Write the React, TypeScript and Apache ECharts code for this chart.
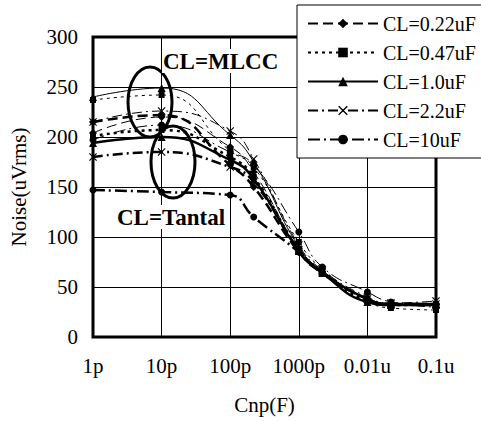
import React, { useEffect, useRef } from "react";
import * as echarts from "echarts";

const capacitances = [1e-12, 1e-11, 1e-10, 2.2e-10, 1e-9, 2.2e-9, 1e-8, 2.2e-8, 1e-7];
const xTickLabels = ["1p", "10p", "100p", "1000p", "0.01u", "0.1u"];
const clNames = ["CL=0.22uF", "CL=0.47uF", "CL=1.0uF", "CL=2.2uF", "CL=10uF"];

// MLCC output capacitor (thin lines)
const mlcc022 = [204, 220, 190, 165, 88, 65, 38, 33, 32];
const mlcc047 = [237, 242, 186, 170, 95, 68, 36, 29, 27];
const mlcc10 = [240, 249, 202, 175, 90, 66, 38, 33, 33];
const mlcc22 = [215, 226, 206, 178, 92, 67, 40, 34, 36];
const mlcc100 = [197, 212, 185, 172, 105, 70, 45, 35, 30];

// Tantalum output capacitor (thick lines)
const tant022 = [215, 222, 172, 150, 85, 64, 38, 33, 33];
const tant047 = [201, 207, 180, 160, 88, 65, 36, 32, 32];
const tant10 = [194, 200, 177, 158, 86, 64, 35, 32, 32];
const tant22 = [180, 185, 170, 155, 87, 65, 38, 33, 33];
const tant100 = [147, 145, 142, 120, 85, 64, 38, 33, 33];

const FONT = "'Liberation Serif', 'Times New Roman', serif";
const XSYM = "path://M0,1L1,0L5,4L9,0L10,1L6,5L10,9L9,10L5,6L1,10L0,9L4,5Z";

const styles = [
  { symbol: "diamond", size: 8, dash: [10, 5] as any },
  { symbol: "rect", size: 6, dash: [3, 4] as any },
  { symbol: "triangle", size: 8, dash: "solid" as any },
  { symbol: XSYM, size: 8, dash: [10, 4, 2, 4] as any },
  { symbol: "circle", size: 7, dash: [12, 4, 2, 4] as any },
];

export default function App() {
  const ref = useRef<HTMLDivElement>(null);
  useEffect(() => {
    if (!ref.current) return;
    const chart = echarts.init(ref.current, undefined, { renderer: "svg" });
    const mlcc = [mlcc022, mlcc047, mlcc10, mlcc22, mlcc100];
    const tant = [tant022, tant047, tant10, tant22, tant100];

    const minorLines: any[] = [];
    for (let e = -12; e < -7; e++) {
      for (let k = 2; k <= 9; k++) minorLines.push({ xAxis: k * Math.pow(10, e) });
    }

    const mk = (vals: number[], i: number, thick: boolean) => ({
      name: clNames[i],
      type: "line",
      smooth: 0.5,
      z: thick ? 4 : 3,
      symbol: styles[i].symbol,
      symbolSize: styles[i].size,
      showSymbol: true,
      data: vals.map((v, j) => [capacitances[j], v]),
      lineStyle: { color: "#000", width: thick ? 2.5 : 1, type: styles[i].dash },
      itemStyle: { color: "#000" },
    });

    const series: any[] = [
      {
        name: "minor",
        type: "line",
        data: [],
        z: 1,
        silent: true,
        markLine: {
          silent: true,
          symbol: "none",
          label: { show: false },
          lineStyle: { color: "#555", width: 1, type: "solid" },
          data: minorLines,
        },
      },
    ];
    mlcc.forEach((v, i) => series.push(mk(v, i, false)));
    tant.forEach((v, i) => series.push(mk(v, i, true)));

    chart.setOption({
      animation: false,
      backgroundColor: "#fff",
      grid: {
        left: 92,
        right: 45,
        top: 37,
        bottom: 84,
        show: true,
        borderColor: "#000",
        borderWidth: 3,
        backgroundColor: "transparent",
      },
      legend: {
        data: clNames,
        orient: "vertical",
        left: 297,
        top: 5,
        padding: [7, 10, 7, 10],
        itemWidth: 70,
        itemHeight: 12,
        itemGap: 6,
        backgroundColor: "#fff",
        borderColor: "#000",
        borderWidth: 1,
        borderRadius: 0,
        selectedMode: false,
        z: 10,
        textStyle: { fontFamily: FONT, fontSize: 20, color: "#000", lineHeight: 23 },
      },
      xAxis: {
        type: "log",
        logBase: 10,
        min: 1e-12,
        max: 1e-7,
        name: "Cnp(F)",
        nameLocation: "middle",
        nameGap: 57,
        nameTextStyle: { fontFamily: FONT, fontSize: 21, color: "#000" },
        axisLine: { show: false },
        axisTick: { show: false },
        axisLabel: {
          margin: 18,
          fontFamily: FONT,
          fontSize: 21,
          color: "#000",
          formatter: (v: number) => xTickLabels[Math.round(Math.log10(v)) + 12] ?? "",
        },
        splitLine: { show: true, lineStyle: { color: "#000", width: 1 } },
      },
      yAxis: {
        type: "value",
        min: 0,
        max: 300,
        interval: 50,
        name: "Noise(uVrms)",
        nameLocation: "middle",
        nameGap: 64,
        nameTextStyle: { fontFamily: FONT, fontSize: 21, color: "#000" },
        axisLine: { show: false },
        axisTick: { show: false },
        axisLabel: { margin: 15, fontFamily: FONT, fontSize: 21, color: "#000" },
        splitLine: { show: true, lineStyle: { color: "#000", width: 1 } },
      },
      graphic: [
        {
          type: "ellipse",
          z: 20,
          shape: { cx: 150, cy: 102, rx: 22, ry: 35 },
          style: { fill: "none", stroke: "#000", lineWidth: 3 },
        },
        {
          type: "ellipse",
          z: 20,
          shape: { cx: 173, cy: 162, rx: 22, ry: 36 },
          style: { fill: "none", stroke: "#000", lineWidth: 3 },
        },
        {
          type: "text",
          z: 21,
          left: 162,
          top: 49,
          style: {
            text: "CL=MLCC",
            fontFamily: FONT,
            fontWeight: "bold",
            fontSize: 23,
            fill: "#000",
            backgroundColor: "#fff",
            padding: [1, 1, 0, 1],
          },
        },
        {
          type: "text",
          z: 21,
          left: 116,
          top: 205,
          style: {
            text: "CL=Tantal",
            fontFamily: FONT,
            fontWeight: "bold",
            fontSize: 23,
            fill: "#000",
            backgroundColor: "#fff",
            padding: [1, 1, 0, 1],
          },
        },
      ],
      series,
    });
    return () => chart.dispose();
  }, []);
  return (
    <div
      ref={ref}
      style={{ position: "absolute", left: 0, top: 0, width: 481, height: 421 }}
    />
  );
}
